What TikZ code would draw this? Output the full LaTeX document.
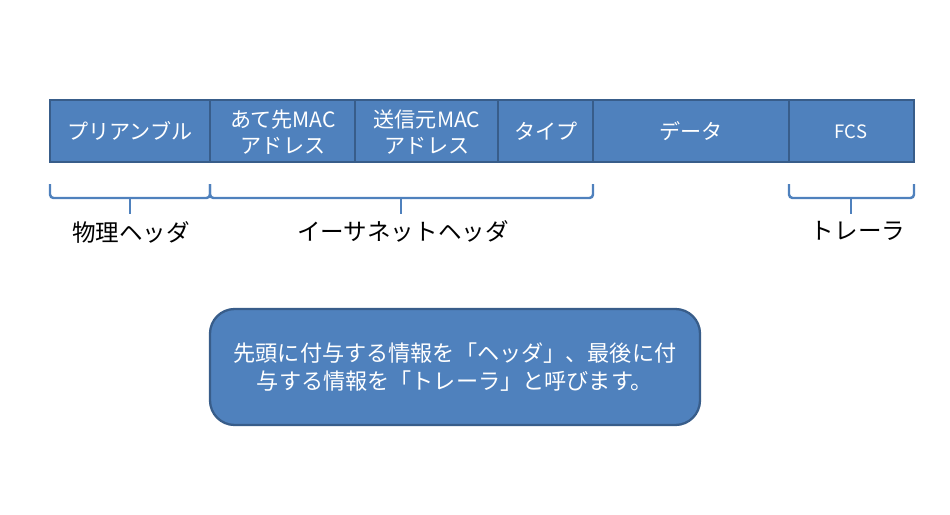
\documentclass[tikz,border=0pt]{standalone}
\usepackage{fontspec}
\setmainfont{Noto Sans CJK JP}
\definecolor{fieldblue}{HTML}{4F81BD}
\definecolor{edgeblue}{HTML}{385D8A}
\tikzset{
  fieldbox/.style={fill=fieldblue, draw=edgeblue, line width=1.3pt},
  fieldtext/.style={text=white, align=center, font=\fontsize{12}{14.5}\selectfont},
  bracket/.style={draw=fieldblue, line width=1.4pt, rounded corners=2pt},
  bracelabel/.style={font=\fontsize{13.4}{16}\selectfont}
}
\begin{document}
\begin{tikzpicture}[x=0.02cm, y=-0.02cm]
    \useasboundingbox (0,0) rectangle (950,514);

    % frame fields
    \draw[fieldbox] (50,100) rectangle (210,162);
    \draw[fieldbox] (210,100) rectangle (355,162);
    \draw[fieldbox] (355,100) rectangle (498,162);
    \draw[fieldbox] (498,100) rectangle (593,162);
    \draw[fieldbox] (593,100) rectangle (789,162);
    \draw[fieldbox] (789,100) rectangle (914,162);

    \node[fieldtext] (pre) at (130,131) {プリアンブル};
    \node[fieldtext] (dst) at (283,132) {あて先MAC\\アドレス};
    \node[fieldtext] (src) at (427,132) {送信元MAC\\アドレス};
    \node[fieldtext] (typ) at (546,131) {タイプ};
    \node[fieldtext] (dat) at (691,131) {データ};
    \node[fieldtext, font=\fontsize{10.5}{12}\selectfont] (fcs) at (851,132) {FCS};

    % brackets
    \draw[bracket] (50,184) -- (50,198) -- (210,198) -- (210,184);
    \draw[bracket] (130,198) -- (130,214);
    \draw[bracket] (210,184) -- (210,198) -- (593,198) -- (593,184);
    \draw[bracket] (401,198) -- (401,214);
    \draw[bracket] (789,184) -- (789,198) -- (914,198) -- (914,184);
    \draw[bracket] (851,198) -- (851,214);

    \node[bracelabel] (phys) at (131,232) {物理ヘッダ};
    \node[bracelabel] (eth) at (403,231) {イーサネットヘッダ};
    \node[bracelabel] (trl) at (858,231) {トレーラ};

    % note
    \node[fieldbox, rounded corners=14pt, minimum width=490*0.02cm, minimum height=116*0.02cm,
          fieldtext, font=\fontsize{12.6}{16.2}\selectfont] (note) at (455,367)
        {先頭に付与する情報を「ヘッダ」、最後に付\\与する情報を「トレーラ」と呼びます。};
\end{tikzpicture}
\end{document}
